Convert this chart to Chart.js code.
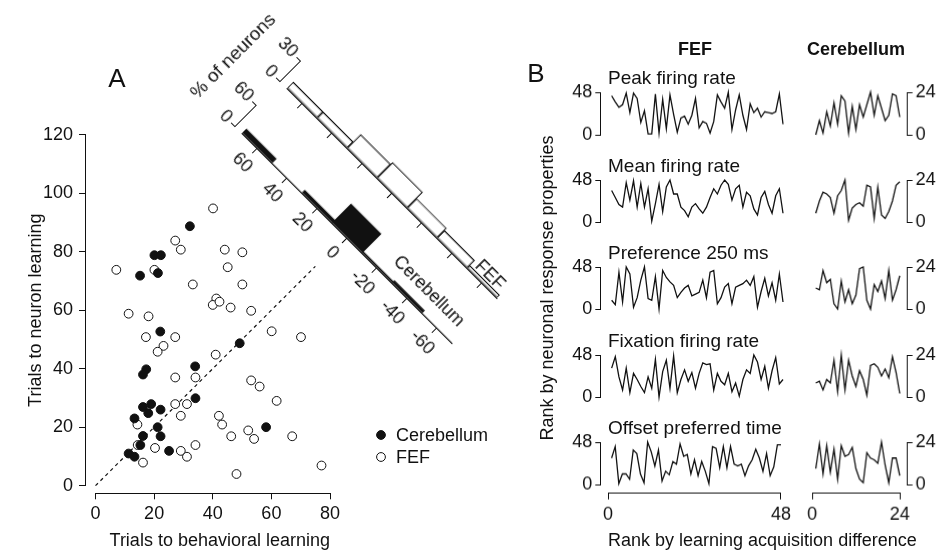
<!DOCTYPE html>
<html lang="en">
<head>
<meta charset="UTF-8">
<title>FEF and cerebellum learning</title>
<script src="https://cdn.jsdelivr.net/npm/chart.js@4.4.1/dist/chart.umd.min.js"></script>
<style>
  body { margin: 0; background: #fff; }
  #page { position: relative; width: 946px; height: 555px; overflow: hidden; }
  #page canvas { position: absolute; }
</style>
</head>
<body>
<div id="page"></div>
<script>
// trials to learning, one entry per neuron
const cbBehav  = [32.2, 20.1, 22.3, 21.3, 15.2, 22.1, 49.2, 34.0, 17.3, 16.2, 34.1, 16.2, 19.0, 18.0, 22.2, 13.3, 21.2, 22.2, 16.2, 58.2, 15.3, 25.1, 11.3, 13.3];
const cbNeuron = [88.7, 78.8, 78.8, 72.7, 71.8, 52.7, 48.7, 40.8, 39.8, 38.0, 29.9, 26.9, 27.9, 24.8, 26.0, 23.0, 20.0, 16.9, 17.0, 20.0, 13.9, 11.9, 11.0, 9.9];
const fefBehav  = [40.1, 27.2, 29.1, 7.1, 20.1, 44.1, 50.1, 45.1, 33.2, 50.1, 41.2, 40.0, 42.3, 46.1, 53.1, 11.3, 18.1, 17.2, 27.2, 23.2, 21.2, 60.1, 41.0, 27.2, 34.1, 53.1, 56.0, 61.8, 27.2, 31.2, 29.1, 14.3, 42.1, 43.2, 46.3, 52.1, 54.1, 14.4, 20.3, 29.1, 31.2, 34.1, 16.2, 48.1, 70.1, 67.1, 77.1];
const fefNeuron = [94.8, 83.8, 80.7, 73.8, 73.8, 80.7, 79.8, 74.7, 68.8, 68.8, 64.0, 61.8, 62.9, 60.9, 59.8, 58.8, 57.9, 50.8, 50.8, 47.8, 45.8, 52.8, 44.8, 37.0, 37.0, 36.0, 33.9, 29.0, 27.9, 27.9, 23.9, 20.9, 23.9, 20.9, 16.9, 18.9, 16.0, 13.9, 12.9, 11.9, 9.9, 13.9, 7.9, 4.0, 50.8, 16.9, 6.9];
const xTicksA = [0, 20, 40, 60, 80];
const yTicksA = [0, 20, 40, 60, 80, 100, 120];

// neuron minus behavior, % of neurons per 20-trial bin
const diffBins = ['60', '40', '20', '0', '-20', '-40', '-60'];
const cbHist  = [12, 0, 8, 54, 4, 7, 0];
const fefHist = [9, 9, 20, 23, 14, 11, 4];

// panel B: rank of each property, ordered by learning acquisition difference
const propNames = ['Peak firing rate', 'Mean firing rate', 'Preference 250 ms', 'Fixation firing rate', 'Offset preferred time'];
const fefRanks = [
  [44, 37, 31, 34, 47, 25, 47, 41, 14, 27, 1, 1, 46, 2, 40, 7, 45, 23, 3, 19, 21, 12, 22, 41, 8, 15, 13, 2, 15, 45, 37, 30, 48, 6, 28, 45, 22, 6, 35, 25, 30, 20, 26, 25, 24, 26, 46, 12],
  [36, 28, 20, 17, 45, 25, 47, 17, 44, 17, 38, 1, 21, 43, 12, 40, 48, 32, 32, 17, 13, 6, 17, 21, 15, 10, 17, 28, 38, 32, 42, 48, 43, 25, 38, 42, 17, 34, 30, 15, 8, 28, 35, 20, 10, 30, 38, 10],
  [10, 5, 42, 8, 48, 40, 2, 13, 33, 48, 12, 10, 37, 0, 44, 36, 31, 27, 13, 19, 24, 27, 15, 17, 19, 33, 13, 42, 44, 6, 13, 25, 29, 6, 25, 27, 29, 33, 27, 37, 2, 20, 35, 15, 30, 10, 40, 8],
  [33, 46, 23, 8, 33, 5, 27, 20, 12, 5, 23, 10, 43, 0, 29, 42, 10, 47, 5, 20, 31, 18, 28, 10, 27, 39, 37, 38, 8, 27, 18, 14, 27, 6, 16, 1, 20, 31, 27, 48, 40, 20, 35, 10, 30, 45, 15, 20],
  [30, 43, 1, 12, 12, 6, 39, 35, 12, 2, 48, 37, 21, 39, 4, 15, 11, 26, 23, 46, 32, 34, 12, 28, 10, 26, 15, 1, 43, 41, 19, 43, 19, 43, 23, 21, 23, 10, 21, 28, 40, 30, 15, 35, 10, 20, 45, 45]
];
const cbRanks = [
  [0, 8, 1, 13, 5, 18, 6, 22, 19, 1, 16, 3, 17, 10, 17, 24, 11, 22, 15, 8, 11, 23, 22, 10],
  [5, 12, 17, 16, 14, 5, 15, 18, 24, 1, 8, 10, 11, 9, 21, 20, 2, 20, 4, 2, 6, 12, 21, 23],
  [12, 11, 22, 15, 17, 3, 0, 16, 4, 11, 3, 8, 23, 24, 5, 0, 14, 10, 16, 6, 22, 5, 11, 19],
  [8, 9, 4, 10, 8, 21, 3, 24, 4, 21, 12, 6, 15, 10, 1, 18, 19, 17, 12, 16, 11, 23, 14, 2],
  [9, 23, 6, 22, 7, 20, 3, 22, 16, 17, 21, 9, 3, 1, 18, 15, 14, 12, 24, 11, 1, 15, 15, 5]
];

const INK = '#111';
const FONT = "'Liberation Sans', Arial, Helvetica, sans-serif";
Chart.defaults.font.family = FONT;
Chart.defaults.font.size = 18;
Chart.defaults.color = INK;
Chart.defaults.animation = false;
Chart.defaults.responsive = false;
Chart.defaults.plugins.legend.display = false;
Chart.defaults.plugins.tooltip.enabled = false;

const page = document.getElementById('page');

function makeCanvas(left, top, w, h) {
  const c = document.createElement('canvas');
  c.width = w; c.height = h;
  c.style.left = left + 'px'; c.style.top = top + 'px';
  c.style.width = w + 'px'; c.style.height = h + 'px';
  page.appendChild(c);
  return c;
}

// pushes axes away from the plot area once layout is done (detached spines)
function detach(shifts) {
  return {
    id: 'detach',
    afterLayout(chart) {
      for (const id in shifts) {
        const s = chart.scales[id];
        if (!s) continue;
        if (s.isHorizontal()) { s.top += shifts[id]; s.bottom += shifts[id]; }
        else { s.left += shifts[id]; s.right += shifts[id]; }
      }
    }
  };
}

function fixedTicks(values) {
  return axis => { axis.ticks = values.map(v => ({ value: v })); };
}

function drawText(ctx, t) {
  ctx.save();
  ctx.translate(t.x, t.y);
  if (t.rot) ctx.rotate(t.rot);
  ctx.font = (t.bold ? 'bold ' : '') + (t.size || 18) + 'px ' + FONT;
  ctx.fillStyle = INK;
  ctx.textAlign = t.align || 'center';
  ctx.textBaseline = 'middle';
  ctx.fillText(t.text, 0, 0);
  ctx.restore();
}

const axisLook = {
  grid: { drawOnChartArea: false, drawTicks: true, tickLength: 6, color: INK, lineWidth: 1 },
  border: { display: true, color: INK, width: 1 }
};

// ---------- panel A: scatter (canvas spans the page; also carries the page captions) ----------
const rowTop = [92, 179.5, 266.8, 354.8, 442];
const rowH = 42.5;

const captions = {
  id: 'captions',
  afterDraw(chart) {
    const ctx = chart.ctx;
    drawText(ctx, { text: 'A', x: 117, y: 80, size: 26 });
    drawText(ctx, { text: 'B', x: 536, y: 75, size: 26 });
    drawText(ctx, { text: 'FEF', x: 695, y: 50, bold: true });
    drawText(ctx, { text: 'Cerebellum', x: 856, y: 50, bold: true });
    propNames.forEach((n, i) => drawText(ctx, { text: n, x: 608, y: rowTop[i] - 13, align: 'left', size: 19 }));
    drawText(ctx, { text: 'Rank by neuronal response properties', x: 548, y: 288, rot: -Math.PI / 2 });
    drawText(ctx, { text: 'Rank by learning acquisition difference', x: 608, y: 541, align: 'left' });
    // legend
    const ds = chart.data.datasets;
    [[0, 435], [1, 457]].forEach(([k, y]) => {
      ctx.save();
      ctx.beginPath();
      ctx.arc(381, y, ds[k].pointRadius, 0, Math.PI * 2);
      ctx.fillStyle = ds[k].pointBackgroundColor;
      ctx.fill();
      ctx.lineWidth = ds[k].pointBorderWidth;
      ctx.strokeStyle = ds[k].pointBorderColor;
      ctx.stroke();
      ctx.restore();
      drawText(ctx, { text: ds[k].label, x: 396, y: y + 1, align: 'left' });
    });
  }
};

new Chart(makeCanvas(0, 0, 946, 555), {
  type: 'scatter',
  data: {
    datasets: [
      { label: 'Cerebellum', data: cbBehav.map((x, i) => ({ x, y: cbNeuron[i] })),
        pointRadius: 4.4, pointBackgroundColor: INK, pointBorderColor: INK, pointBorderWidth: 1, clip: false },
      { label: 'FEF', data: fefBehav.map((x, i) => ({ x, y: fefNeuron[i] })),
        pointRadius: 4.4, pointBackgroundColor: '#fff', pointBorderColor: INK, pointBorderWidth: 1, clip: false },
      { type: 'line', label: 'unity', data: [{ x: 0, y: 0 }, { x: 75, y: 75 }],
        borderColor: INK, borderWidth: 1.2, borderDash: [3.5, 3.5], pointRadius: 0, clip: false }
    ]
  },
  options: {
    layout: { padding: { left: 14, right: 616, top: 134.7, bottom: 10.8 } },
    scales: {
      x: { type: 'linear', min: 0, max: 80, afterBuildTicks: fixedTicks(xTicksA),
        afterFit: a => { a.height = 58.5; },
        ticks: { padding: 4 },
        title: { display: true, text: 'Trials to behavioral learning', padding: 0, align: 'end' },
        ...axisLook },
      y: { type: 'linear', min: 0, max: 120, afterBuildTicks: fixedTicks(yTicksA),
        afterFit: a => { a.width = 81.5; },
        ticks: { padding: 6 },
        title: { display: true, text: 'Trials to neuron learning', padding: { top: 22 } },
        ...axisLook }
    }
  },
  plugins: [detach({ x: 7.6, y: -10.5 }), captions]
});

// ---------- rotated histograms along the unity line ----------
// canvas 420x200, plot area 297 x h px with its lower-left corner at (90, 150)
function histogram(origin, values, yMax, plotH, style, notes, showLabels) {
  const c = makeCanvas(origin[0] - 90, origin[1] - 150, 420, 200);
  c.style.transformOrigin = '90px 150px';
  c.style.transform = 'rotate(45deg)';
  new Chart(c, {
    type: 'bar',
    data: { labels: diffBins, datasets: [Object.assign({ data: values, categoryPercentage: 1, barPercentage: 1 }, style)] },
    options: {
      layout: { padding: { left: 0, right: 33, top: 150 - plotH, bottom: 5 } },
      scales: {
        x: { afterFit: a => { a.height = 45; },
          ticks: { display: showLabels, padding: 3, maxRotation: 0, autoSkip: false },
          grid: { drawOnChartArea: false, drawTicks: true, tickLength: 7, color: INK, offset: false },
          border: { display: true, color: INK, width: 1 } },
        y: { min: 0, max: yMax, afterBuildTicks: fixedTicks([0, yMax]),
          afterFit: a => { a.width = 90; },
          ticks: { padding: 3 },
          grid: { drawOnChartArea: false, drawTicks: true, tickLength: 5, color: INK },
          border: { display: true, color: INK, width: 1 } }
      }
    },
    plugins: [detach({ y: -10 }), {
      id: 'histNotes',
      afterDraw(chart) { notes(chart).forEach(t => drawText(chart.ctx, t)); }
    }]
  });
}

histogram([242, 133], cbHist, 60, 30, { backgroundColor: INK, borderWidth: 0 },
  ch => [
    { text: 'Cerebellum', x: ch.scales.x.getPixelForValue(5.25), y: ch.scales.y.getPixelForValue(39) },
    { text: '% of neurons', x: ch.chartArea.left - 60, y: ch.chartArea.bottom - 48, rot: -Math.PI / 2, size: 19 }
  ], true);

histogram([287, 88], fefHist, 30, 29, { backgroundColor: '#fff', borderColor: INK, borderWidth: 1.2, borderSkipped: false },
  ch => [
    { text: 'FEF', x: ch.scales.x.getPixelForValue(6), y: ch.scales.y.getPixelForValue(11) }
  ], false);

// ---------- panel B: rank traces ----------
function rankChart(values, top, isFef, last) {
  const n = values.length;
  const plotW = n * 3.646;
  const pt = 14;
  const xh = last ? 50 : 0;
  const pb = 14;
  const h = pt + rowH + xh + pb;
  const left = isFef ? 607.7 - 62 : 812.3 - 14;
  const w = isFef ? 62 + plotW + 12 : 14 + plotW + 44;
  new Chart(makeCanvas(left, top - pt, w, h), {
    type: 'line',
    data: { datasets: [{ data: values.map((v, i) => ({ x: i + 1, y: v })),
      borderColor: INK, borderWidth: 1.3, pointRadius: 0, tension: 0, clip: false }] },
    options: {
      layout: { padding: isFef ? { left: 0, right: 12, top: pt, bottom: pb } : { left: 14, right: 4, top: pt, bottom: pb } },
      scales: {
        x: { type: 'linear', min: 0, max: n, display: last, afterBuildTicks: fixedTicks([0, n]),
          afterFit: a => { a.height = xh; },
          ticks: { padding: 4 }, ...axisLook },
        y: { type: 'linear', min: 0, max: n, position: isFef ? 'left' : 'right',
          afterBuildTicks: fixedTicks([0, n]),
          afterFit: a => { a.width = isFef ? 62 : 40; },
          ticks: { padding: 3 },
          grid: { drawOnChartArea: false, drawTicks: true, tickLength: 5, color: INK },
          border: { display: true, color: INK, width: 1 } }
      }
    },
    plugins: [detach({ x: 8.8, y: isFef ? -7.7 : 7.7 })]
  });
}

fefRanks.forEach((r, i) => rankChart(r, rowTop[i], true, i === fefRanks.length - 1));
cbRanks.forEach((r, i) => rankChart(r, rowTop[i], false, i === cbRanks.length - 1));
</script>
</body>
</html>
